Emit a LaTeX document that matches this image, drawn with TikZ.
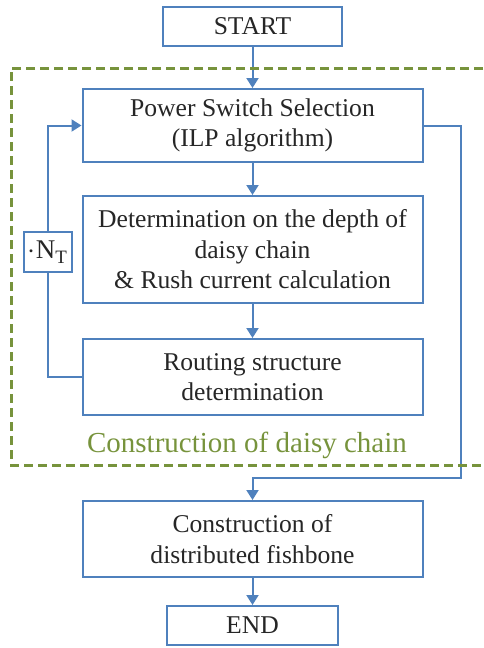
\documentclass[tikz,border=0pt]{standalone}
\usepackage{fontspec}
\setmainfont{Liberation Serif}
\usetikzlibrary{positioning,arrows.meta}
\definecolor{flowblue}{RGB}{79,129,189}
\definecolor{olivegreen}{RGB}{119,147,60}
\tikzset{
  box/.style={draw=flowblue, line width=1pt, align=center, inner sep=2pt,
    font=\fontsize{12.8}{15.3}\selectfont, text=black!85},
  flow/.style={draw=flowblue, line width=1pt, -{Triangle[width=6pt,length=5pt]}},
  link/.style={draw=flowblue, line width=1pt}
}
\begin{document}
\begin{tikzpicture}[x=0.5pt, y=-0.5pt]
        \useasboundingbox (0,0) rectangle (483,648);
        % Main flow
        \node (start) [box, minimum width=89.5pt, minimum height=19.5pt] at (252.5,26.5) {START};
        \node (pss) [box, minimum width=170pt, minimum height=36.5pt, below=20.5pt of start] {Power Switch Selection\\(ILP algorithm)};
        \node (depth) [box, minimum width=170pt, minimum height=53.5pt, below=16pt of pss] {Determination on the depth of\\daisy chain\\\& Rush current calculation};
        \node (route) [box, minimum width=170pt, minimum height=38pt, below=17pt of depth] {Routing structure\\determination};
        \node (fish) [box, minimum width=170pt, minimum height=38pt, below=42pt of route] {Construction of\\distributed fishbone};
        \node (end) [box, minimum width=85.5pt, minimum height=19.5pt, below=13.5pt of fish] {END};

        \draw[flow] (start) -- (pss);
        \draw[flow] (pss) -- (depth);
        \draw[flow] (depth) -- (route);
        \draw[flow] (fish) -- (end);

        % Iteration loop on the left
        \node (nt) [box, minimum width=24pt, minimum height=20pt, inner sep=1pt, font=\fontsize{13.5}{15}\selectfont] at (48,252) {$\cdot$N\textsubscript{T}};
        \draw[link] (route.west) -| (nt.south);
        \draw[flow] (nt.north) |- (pss.west);

        % Bypass on the right down to the fishbone
        \coordinate (turn) at (461,478);
        \draw[flow] (pss.east) -| (turn) -| (fish.north);

        % Daisy chain frame, open to the right
        \draw[olivegreen, line width=1.5pt, dash pattern=on 4.5pt off 2.5pt]
          (483,68) -- (11,68) -- (11,465) -- (483,465);
        \node (dclabel) [text=olivegreen, font=\fontsize{14.5}{17}\selectfont] at (247,445) {Construction of daisy chain};
    \end{tikzpicture}
\end{document}
